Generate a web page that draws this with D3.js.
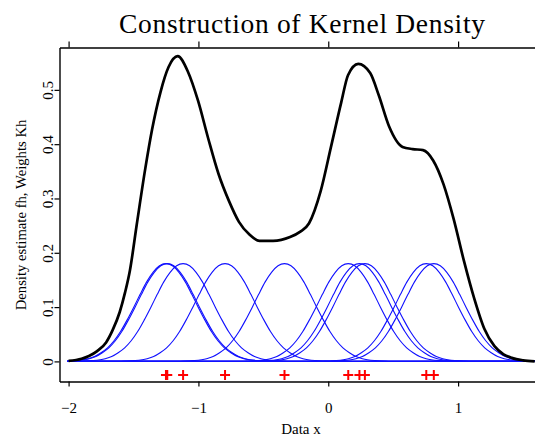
<!DOCTYPE html>
<html>
<head>
<meta charset="utf-8">
<script src="https://cdn.jsdelivr.net/npm/d3@7"></script>
<style>
body { margin: 0; background: #fff; }
text { font-family: "Liberation Serif", "Times New Roman", serif; fill: #000; }
</style>
</head>
<body>
<div class="chart"></div>
<script>
// observations, the red crosses under the curves
const dataX = [-1.250, -1.240, -1.118, -0.795, -0.337, 0.154, 0.240, 0.282, 0.755, 0.813];

// shape of one blue kernel (offset from its point, height)
const kernelOffset = [0, 0.05, 0.10, 0.15, 0.20, 0.25, 0.30, 0.35, 0.40, 0.45, 0.50, 0.55, 0.60, 0.70, 0.80, 0.90];
const kernelHeight = [0.180, 0.176, 0.164, 0.146, 0.123, 0.099, 0.076, 0.055, 0.038, 0.025, 0.016, 0.009, 0.005, 0.0015, 0.0004, 0];

// black density estimate
const densityX = [-2.00, -1.90, -1.843, -1.78, -1.711, -1.66, -1.606, -1.565, -1.528, -1.475, -1.41, -1.357, -1.292, -1.23, -1.16,
    -1.08, -1.003, -0.924, -0.845, -0.766, -0.688, -0.609, -0.53, -0.425, -0.294, -0.215, -0.149, -0.058, 0.021, 0.10, 0.152,
    0.231, 0.323, 0.389, 0.468, 0.572, 0.65, 0.73, 0.808, 0.888, 0.966, 1.045, 1.124, 1.202, 1.28, 1.35, 1.413, 1.50, 1.59];
const densityY = [0.001, 0.005, 0.010, 0.019, 0.035, 0.058, 0.091, 0.127, 0.167, 0.252, 0.354, 0.427, 0.496, 0.542, 0.562,
    0.533, 0.480, 0.410, 0.345, 0.296, 0.257, 0.234, 0.222, 0.222, 0.229, 0.239, 0.254, 0.314, 0.395, 0.477, 0.527,
    0.548, 0.531, 0.490, 0.433, 0.395, 0.391, 0.389, 0.370, 0.326, 0.262, 0.185, 0.116, 0.060, 0.028, 0.013, 0.0065, 0.002, 0];

const xTicks = [-2, -1, 0, 1];
const yTicks = [0, 0.1, 0.2, 0.3, 0.4, 0.5];
const gridRange = [-2.01, 1.6];

const width = 535, height = 436;
const margin = {top: 47.5, left: 59.5, bottom: 54.5};

const x = d3.scaleLinear().domain([-2.07, 1.6]).range([margin.left, width + 1]);
const y = d3.scaleLinear().domain([-0.037, 0.578]).range([height - margin.bottom, margin.top]);

const svg = d3.select('.chart').append('svg')
    .attr('width', width)
    .attr('height', height)
    .attr('viewBox', [0, 0, width, height]);

const line = d3.line()
    .x(d => x(d[0]))
    .y(d => y(d[1]))
    .curve(d3.curveMonotoneX);

// full symmetric kernel
const kernel = kernelOffset.slice(1).reverse().map((o, i) => [-o, kernelHeight[kernelHeight.length - 1 - i]])
    .concat(kernelOffset.map((o, i) => [o, kernelHeight[i]]));

// blue weights, one per observation
svg.append('g')
    .selectAll('path')
    .data(dataX)
    .join('path')
    .attr('d', xi => {
        let pts = kernel.map(k => [xi + k[0], k[1]])
            .filter(p => p[0] > gridRange[0] && p[0] < gridRange[1]);
        return line([[gridRange[0], 0], ...pts, [gridRange[1], 0]]);
    })
    .attr('fill', 'none')
    .attr('stroke', '#1010ff')
    .attr('stroke-width', 1.1);

// black density estimate
svg.append('path')
    .datum(densityX.map((d, i) => [d, densityY[i]]))
    .attr('d', line)
    .attr('fill', 'none')
    .attr('stroke', '#000')
    .attr('stroke-width', 2.7)
    .attr('stroke-linejoin', 'round');

// red crosses for the data
svg.append('g')
    .selectAll('path')
    .data(dataX)
    .join('path')
    .attr('transform', d => `translate(${x(d)},${y(-0.025)})`)
    .attr('d', 'M-5,0H5M0,-5V5')
    .attr('stroke', '#ff0000')
    .attr('stroke-width', 2);

// axes
const xAxis = svg.append('g')
    .attr('transform', `translate(0,${height - margin.bottom})`)
    .call(d3.axisBottom(x).tickValues(xTicks).tickSize(5).tickSizeOuter(0).tickFormat(d3.format('d')));
xAxis.selectAll('text').attr('y', 31).attr('dy', 0).style('font-size', '15px');

const topAxis = svg.append('g')
    .attr('transform', `translate(0,${margin.top})`)
    .call(d3.axisTop(x).tickValues(xTicks).tickSize(6).tickSizeOuter(0).tickFormat(''));

const yAxis = svg.append('g')
    .attr('transform', `translate(${margin.left},0)`)
    .call(d3.axisLeft(y).tickValues(yTicks).tickSize(5).tickSizeOuter(0).tickFormat(d3.format('.1~f')));
yAxis.selectAll('text')
    .attr('transform', 'rotate(-90)')
    .attr('x', 0).attr('y', -7).attr('dy', 0)
    .attr('text-anchor', 'middle')
    .style('font-size', '15px');

svg.selectAll('.domain').attr('stroke', '#000').attr('stroke-width', 1.4);
svg.selectAll('.tick line').attr('stroke', '#000').attr('stroke-width', 1.2);
svg.selectAll('.tick text').attr('fill', '#000').attr('font-family', '"Liberation Serif", serif');

// titles
svg.append('text')
    .attr('x', 119).attr('y', 33)
    .attr('textLength', 366)
    .attr('lengthAdjust', 'spacing')
    .style('font-size', '27.5px')
    .text('Construction of Kernel Density');

svg.append('text')
    .attr('x', 301).attr('y', 434)
    .attr('text-anchor', 'middle')
    .style('font-size', '15px')
    .text('Data x');

svg.append('text')
    .attr('transform', 'translate(26,215) rotate(-90)')
    .attr('text-anchor', 'middle')
    .style('font-size', '14.7px')
    .text('Density estimate fh, Weights Kh');
</script>
</body>
</html>
